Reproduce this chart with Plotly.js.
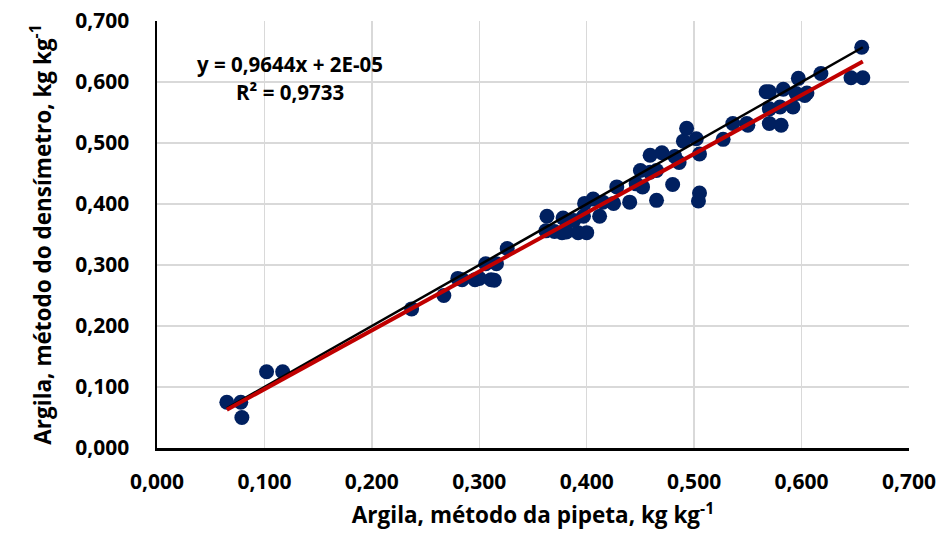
<!DOCTYPE html>
<html>
<head>
<meta charset="utf-8">
<script src="https://cdn.plot.ly/plotly-3.0.1.min.js"></script>
<style>html,body{margin:0;padding:0;background:#fff;}#chart{width:940px;height:536px;}</style>
</head>
<body>
<div id="chart"></div>
<script>
// Argila, método da pipeta (x) vs método do densímetro (y), kg kg-1
const pipeta = [
  0.065, 0.078, 0.079, 0.102, 0.117, 0.237, 0.267, 0.280, 0.284, 0.296,
  0.300, 0.311, 0.314, 0.306, 0.316, 0.326, 0.363, 0.362, 0.370, 0.377,
  0.381, 0.392, 0.400, 0.378, 0.388, 0.397, 0.412, 0.398, 0.406, 0.415,
  0.425, 0.428, 0.440, 0.446, 0.452, 0.450, 0.459, 0.465, 0.465, 0.459,
  0.470, 0.480, 0.482, 0.486, 0.490, 0.493, 0.502, 0.505, 0.505, 0.504,
  0.527, 0.536, 0.549, 0.550, 0.567, 0.570, 0.570, 0.570, 0.581, 0.580,
  0.583, 0.592, 0.595, 0.597, 0.603, 0.605, 0.618, 0.646, 0.657, 0.656
];
const densimetro = [
  0.075, 0.075, 0.050, 0.125, 0.125, 0.228, 0.250, 0.278, 0.276, 0.276,
  0.278, 0.276, 0.275, 0.302, 0.302, 0.327, 0.380, 0.356, 0.355, 0.353,
  0.354, 0.353, 0.353, 0.377, 0.373, 0.380, 0.380, 0.401, 0.408, 0.403,
  0.401, 0.428, 0.403, 0.433, 0.428, 0.455, 0.452, 0.455, 0.406, 0.480,
  0.484, 0.432, 0.478, 0.468, 0.503, 0.524, 0.507, 0.482, 0.418, 0.405,
  0.506, 0.532, 0.532, 0.529, 0.584, 0.584, 0.556, 0.532, 0.529, 0.559,
  0.588, 0.559, 0.581, 0.606, 0.578, 0.582, 0.614, 0.607, 0.607, 0.657
];
const slope = 0.9644;
const intercept = 0.00002;
const r2 = 0.9733;
const tickVals = [0, 0.1, 0.2, 0.3, 0.4, 0.5, 0.6, 0.7];
const tickText = ['0,000', '0,100', '0,200', '0,300', '0,400', '0,500', '0,600', '0,700'];
const eqText = 'y = 0,9644x + 2E-05';
const r2Text = 'R² = 0,9733';
const xTitle = 'Argila, método da pipeta, kg kg<sup>-1</sup>';
const yTitle = 'Argila, método do densímetro, kg kg<sup>-1</sup>';

const xmin = Math.min(...pipeta), xmax = Math.max(...pipeta);
const FONT = 'Open Sans, Liberation Sans, sans-serif';

const traces = [
  {
    x: pipeta, y: densimetro, type: 'scatter', mode: 'markers',
    marker: {color: '#002060', size: 15, line: {width: 0}},
    hoverinfo: 'x+y', showlegend: false
  },
  {
    x: [xmin, xmax], y: [xmin, xmax], type: 'scatter', mode: 'lines',
    line: {color: '#000000', width: 2.5}, showlegend: false, hoverinfo: 'skip'
  },
  {
    x: [xmin, xmax], y: [slope * xmin + intercept, slope * xmax + intercept],
    type: 'scatter', mode: 'lines',
    line: {color: '#C00000', width: 4}, showlegend: false, hoverinfo: 'skip'
  }
];

const axisCommon = {
  range: [0, 0.7], tickmode: 'array', tickvals: tickVals, ticktext: tickText,
  showgrid: true, gridcolor: '#D9D9D9', gridwidth: 1.3,
  zeroline: false, showline: true, linecolor: '#000000', linewidth: 2.5,
  ticks: '', tickfont: {family: FONT, size: 21, color: '#000', weight: 'bold'},
  fixedrange: true
};

const layout = {
  width: 940, height: 536,
  margin: {l: 157, r: 31, t: 21, b: 88, pad: 0},
  paper_bgcolor: '#ffffff', plot_bgcolor: '#ffffff',
  xaxis: Object.assign({}, axisCommon, {
    ticklabelstandoff: 13,
    title: {text: xTitle, font: {family: FONT, size: 22.5, color: '#000', weight: 'bold'}, standoff: 14}
  }),
  yaxis: Object.assign({}, axisCommon, {
    ticklabelstandoff: 21,
    title: {text: yTitle, font: {family: FONT, size: 22.5, color: '#000', weight: 'bold'}, standoff: 18}
  }),
  annotations: [
    {x: 0.124, y: 0.629, xref: 'x', yref: 'y', text: eqText, showarrow: false,
     font: {family: FONT, size: 20.5, color: '#000', weight: 'bold'}, xanchor: 'center', yanchor: 'middle'},
    {x: 0.124, y: 0.583, xref: 'x', yref: 'y', text: r2Text, showarrow: false,
     font: {family: FONT, size: 20.5, color: '#000', weight: 'bold'}, xanchor: 'center', yanchor: 'middle'}
  ],
  showlegend: false
};

Plotly.newPlot('chart', traces, layout, {displayModeBar: false, staticPlot: true});
</script>
</body>
</html>
